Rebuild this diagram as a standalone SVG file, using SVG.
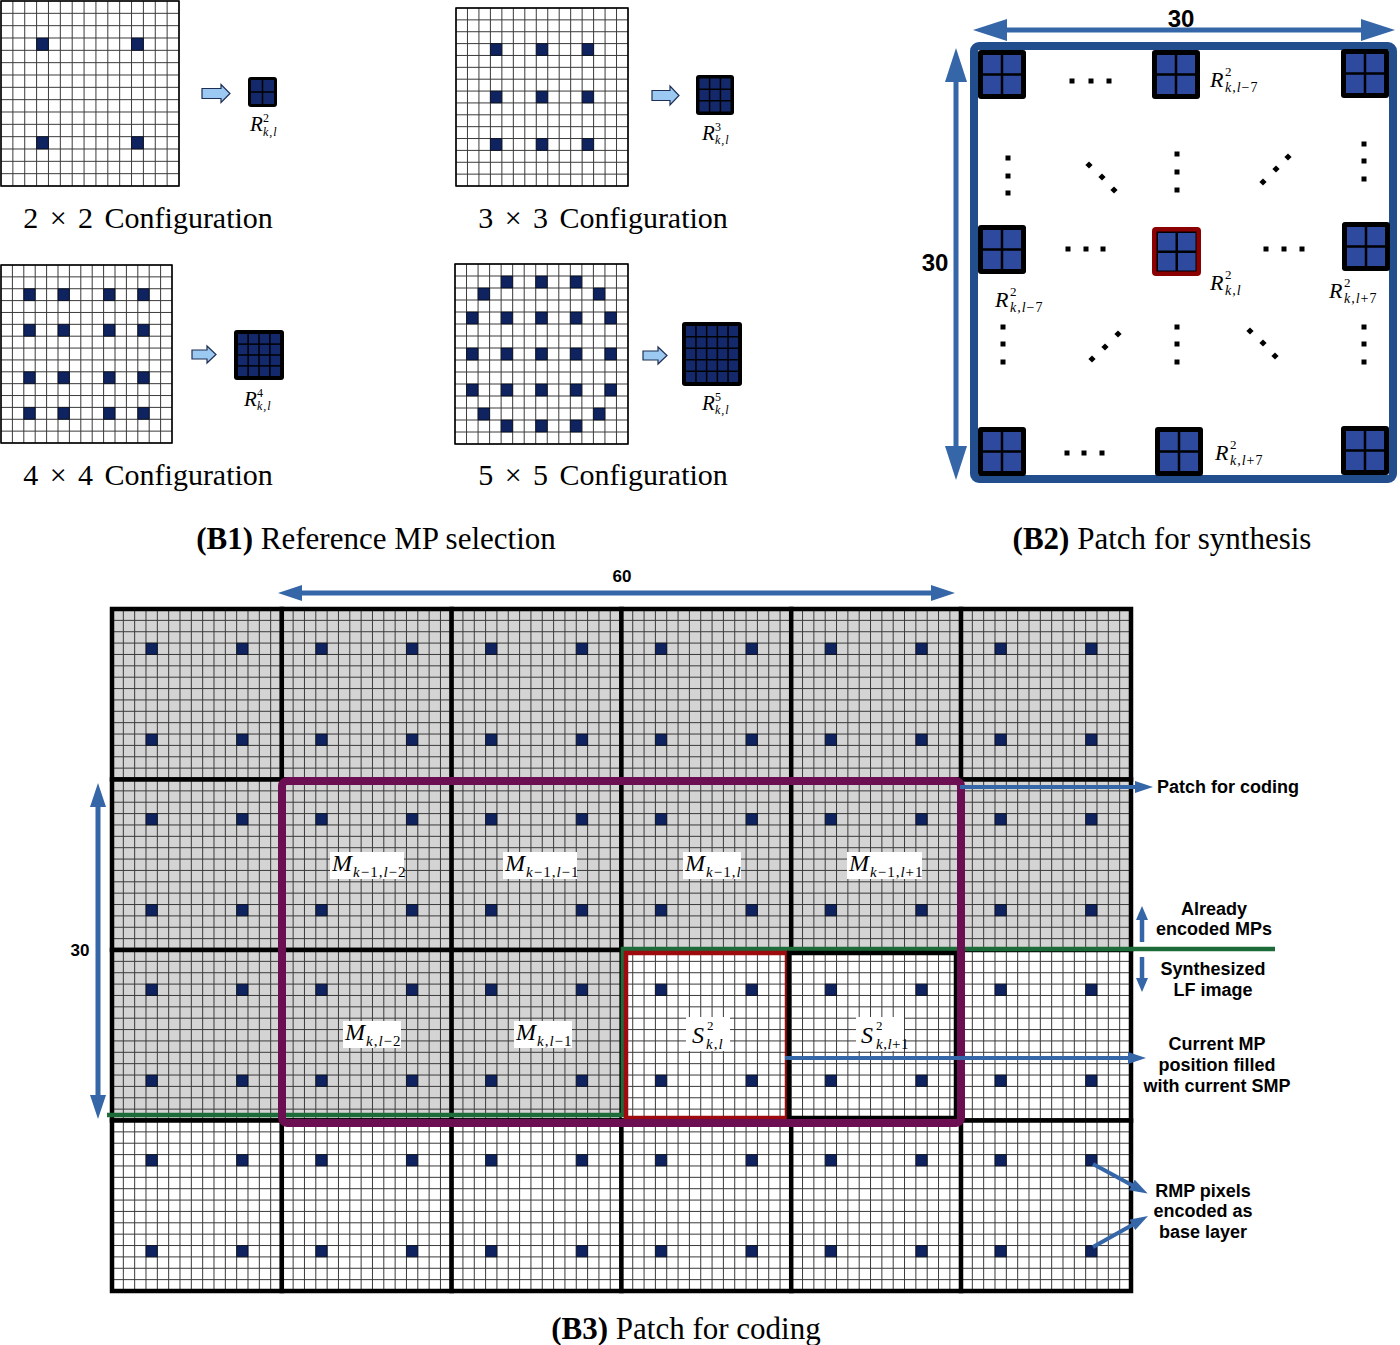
<svg xmlns="http://www.w3.org/2000/svg" xmlns:xlink="http://www.w3.org/1999/xlink" width="1400" height="1345" viewBox="0 0 1400 1345">
<style>
.gl{fill:none;stroke:#3a3a3a;stroke-width:1;vector-effect:non-scaling-stroke}
.gb{fill:none;stroke:#000;stroke-width:1.5;vector-effect:non-scaling-stroke}
.px{fill:#0e2360;stroke:#000;stroke-width:0.6;vector-effect:non-scaling-stroke}
.rc{fill:#14296b}
.bc{fill:#2d4a9f}
.gbg{fill:#d4d4d4}
.wbg{fill:#fff}
.mb{fill:none;stroke:#000;stroke-width:4.5}
.blk{fill:#9cc9f2;stroke:#1d2f55;stroke-width:1.2}
.cfg{font-family:"Liberation Serif","Times New Roman",serif;font-size:30px;word-spacing:4px;text-anchor:middle;fill:#000}
.cap{font-family:"Liberation Serif","Times New Roman",serif;font-size:31px;text-anchor:middle;fill:#000}
.it{font-family:"Liberation Serif","Times New Roman",serif;font-style:italic;fill:#000}
.up{font-family:"Liberation Serif","Times New Roman",serif;font-style:normal;fill:#000}
.lbl{font-family:"Liberation Sans",Arial,sans-serif;font-weight:bold;font-size:18px;text-anchor:middle;fill:#000}
.num{font-family:"Liberation Sans",Arial,sans-serif;font-weight:bold;text-anchor:middle;fill:#000}
.arr{fill:none;stroke:#3566a8}
.dot{fill:#000}
.lb{fill:#fff}
</style>
<defs>
<path id="g15" class="gl" d="M0 0V15M1 0V15M2 0V15M3 0V15M4 0V15M5 0V15M6 0V15M7 0V15M8 0V15M9 0V15M10 0V15M11 0V15M12 0V15M13 0V15M14 0V15M15 0V15M0 0H15M0 1H15M0 2H15M0 3H15M0 4H15M0 5H15M0 6H15M0 7H15M0 8H15M0 9H15M0 10H15M0 11H15M0 12H15M0 13H15M0 14H15M0 15H15"/>
<g id="b4"><rect class="px" x="3" y="3" width="1" height="1"/><rect class="px" x="11" y="3" width="1" height="1"/><rect class="px" x="3" y="11" width="1" height="1"/><rect class="px" x="11" y="11" width="1" height="1"/></g>
<g id="mc"><use href="#g15"/><use href="#b4"/></g>
<g id="rb"><rect x="0" y="0" width="48" height="49" rx="3" fill="#000"/><rect class="bc" x="5" y="5" width="17.75" height="18.25"/><rect class="bc" x="25.25" y="5" width="17.75" height="18.25"/><rect class="bc" x="5" y="25.75" width="17.75" height="18.25"/><rect class="bc" x="25.25" y="25.75" width="17.75" height="18.25"/></g>
<rect id="sq" class="dot" x="-2.5" y="-2.5" width="5" height="5"/>
<path id="dia" class="dot" d="M0 -3.6L3.6 0L0 3.6L-3.6 0Z"/>
<marker id="mA" markerUnits="userSpaceOnUse" markerWidth="18" markerHeight="12" refX="3" refY="6" orient="auto-start-reverse" viewBox="0 0 18 12"><path d="M0 0L18 6L0 12Z" fill="#3566a8"/></marker>
<marker id="mD" markerUnits="userSpaceOnUse" markerWidth="14" markerHeight="12" refX="3" refY="6" orient="auto-start-reverse" viewBox="0 0 14 12"><path d="M0 0L14 6L0 12Z" fill="#3566a8"/></marker>
<marker id="mB" markerUnits="userSpaceOnUse" markerWidth="24" markerHeight="16" refX="3" refY="8" orient="auto-start-reverse" viewBox="0 0 24 16"><path d="M0 0L24 8L0 16Z" fill="#3566a8"/></marker>
<marker id="mC" markerUnits="userSpaceOnUse" markerWidth="34" markerHeight="22" refX="3" refY="11" orient="auto-start-reverse" viewBox="0 0 34 22"><path d="M0 0L34 11L0 22Z" fill="#3566a8"/></marker>
</defs>
<rect x="0" y="0" width="1400" height="1345" fill="#fff"/>

<!-- B1 -->
<g id="cfg2">
<g transform="translate(1 1) scale(11.867 12.333)">
<rect x="0" y="0" width="15" height="15" fill="#fff"/>
<use href="#g15"/><use href="#b4"/>
<rect class="gb" x="0" y="0" width="15" height="15"/>
</g>
<polygon class="blk" points="202,88.5 221,88.5 221,84.5 230,93.5 221,102.5 221,98.5 202,98.5"/>
<rect x="248" y="77" width="29" height="30" rx="3" fill="#000"/>
<rect class="rc" x="251" y="80" width="10.75" height="11.25"/><rect class="rc" x="263.25" y="80" width="10.75" height="11.25"/>
<rect class="rc" x="251" y="92.75" width="10.75" height="11.25"/><rect class="rc" x="263.25" y="92.75" width="10.75" height="11.25"/>
<text class="it" x="250" y="131" font-size="21">R</text><text class="up" x="263" y="122" font-size="12">2</text><text class="it" x="263" y="136" font-size="12" letter-spacing="1">k,l</text>
<text class="cfg" x="148" y="228">2 × 2 Configuration</text>
</g>

<g id="cfg3">
<g transform="translate(456 8) scale(11.467 11.867)">
<rect x="0" y="0" width="15" height="15" fill="#fff"/>
<use href="#g15"/>
<rect class="px" x="3" y="3" width="1" height="1"/><rect class="px" x="7" y="3" width="1" height="1"/><rect class="px" x="11" y="3" width="1" height="1"/>
<rect class="px" x="3" y="7" width="1" height="1"/><rect class="px" x="7" y="7" width="1" height="1"/><rect class="px" x="11" y="7" width="1" height="1"/>
<rect class="px" x="3" y="11" width="1" height="1"/><rect class="px" x="7" y="11" width="1" height="1"/><rect class="px" x="11" y="11" width="1" height="1"/>
<rect class="gb" x="0" y="0" width="15" height="15"/>
</g>
<polygon class="blk" points="652,90.5 670,90.5 670,86 679,95.5 670,105 670,100.5 652,100.5"/>
<rect x="696" y="75" width="38" height="40" rx="3" fill="#000"/>
<rect class="rc" x="699.5" y="78.5" width="9.33" height="10"/><rect class="rc" x="710.33" y="78.5" width="9.33" height="10"/><rect class="rc" x="721.17" y="78.5" width="9.33" height="10"/>
<rect class="rc" x="699.5" y="90" width="9.33" height="10"/><rect class="rc" x="710.33" y="90" width="9.33" height="10"/><rect class="rc" x="721.17" y="90" width="9.33" height="10"/>
<rect class="rc" x="699.5" y="101.5" width="9.33" height="10"/><rect class="rc" x="710.33" y="101.5" width="9.33" height="10"/><rect class="rc" x="721.17" y="101.5" width="9.33" height="10"/>
<text class="it" x="702" y="140" font-size="21">R</text><text class="up" x="715" y="131" font-size="12">3</text><text class="it" x="715" y="144" font-size="12" letter-spacing="1">k,l</text>
<text class="cfg" x="603" y="228">3 × 3 Configuration</text>
</g>

<g id="cfg4">
<g transform="translate(1 265) scale(11.4 11.867)">
<rect x="0" y="0" width="15" height="15" fill="#fff"/>
<use href="#g15"/>
<rect class="px" x="2" y="2" width="1" height="1"/><rect class="px" x="5" y="2" width="1" height="1"/><rect class="px" x="9" y="2" width="1" height="1"/><rect class="px" x="12" y="2" width="1" height="1"/>
<rect class="px" x="2" y="5" width="1" height="1"/><rect class="px" x="5" y="5" width="1" height="1"/><rect class="px" x="9" y="5" width="1" height="1"/><rect class="px" x="12" y="5" width="1" height="1"/>
<rect class="px" x="2" y="9" width="1" height="1"/><rect class="px" x="5" y="9" width="1" height="1"/><rect class="px" x="9" y="9" width="1" height="1"/><rect class="px" x="12" y="9" width="1" height="1"/>
<rect class="px" x="2" y="12" width="1" height="1"/><rect class="px" x="5" y="12" width="1" height="1"/><rect class="px" x="9" y="12" width="1" height="1"/><rect class="px" x="12" y="12" width="1" height="1"/>
<rect class="gb" x="0" y="0" width="15" height="15"/>
</g>
<polygon class="blk" points="192,350 207,350 207,346 216,354.5 207,363 207,359 192,359"/>
<rect x="234" y="330" width="50" height="50" rx="3" fill="#000"/>
<g class="rc">
<rect x="238" y="334" width="9.375" height="9.375"/><rect x="248.875" y="334" width="9.375" height="9.375"/><rect x="259.75" y="334" width="9.375" height="9.375"/><rect x="270.625" y="334" width="9.375" height="9.375"/>
<rect x="238" y="344.875" width="9.375" height="9.375"/><rect x="248.875" y="344.875" width="9.375" height="9.375"/><rect x="259.75" y="344.875" width="9.375" height="9.375"/><rect x="270.625" y="344.875" width="9.375" height="9.375"/>
<rect x="238" y="355.75" width="9.375" height="9.375"/><rect x="248.875" y="355.75" width="9.375" height="9.375"/><rect x="259.75" y="355.75" width="9.375" height="9.375"/><rect x="270.625" y="355.75" width="9.375" height="9.375"/>
<rect x="238" y="366.625" width="9.375" height="9.375"/><rect x="248.875" y="366.625" width="9.375" height="9.375"/><rect x="259.75" y="366.625" width="9.375" height="9.375"/><rect x="270.625" y="366.625" width="9.375" height="9.375"/>
</g>
<text class="it" x="244" y="406" font-size="21">R</text><text class="up" x="257" y="397" font-size="12">4</text><text class="it" x="257" y="410" font-size="12" letter-spacing="1">k,l</text>
<text class="cfg" x="148" y="485">4 × 4 Configuration</text>
</g>

<g id="cfg5">
<g transform="translate(455 264) scale(11.533 12)">
<rect x="0" y="0" width="15" height="15" fill="#fff"/>
<use href="#g15"/>
<rect class="px" x="4" y="1" width="1" height="1"/><rect class="px" x="7" y="1" width="1" height="1"/><rect class="px" x="10" y="1" width="1" height="1"/>
<rect class="px" x="2" y="2" width="1" height="1"/><rect class="px" x="12" y="2" width="1" height="1"/>
<rect class="px" x="1" y="4" width="1" height="1"/><rect class="px" x="4" y="4" width="1" height="1"/><rect class="px" x="7" y="4" width="1" height="1"/><rect class="px" x="10" y="4" width="1" height="1"/><rect class="px" x="13" y="4" width="1" height="1"/>
<rect class="px" x="1" y="7" width="1" height="1"/><rect class="px" x="4" y="7" width="1" height="1"/><rect class="px" x="7" y="7" width="1" height="1"/><rect class="px" x="10" y="7" width="1" height="1"/><rect class="px" x="13" y="7" width="1" height="1"/>
<rect class="px" x="1" y="10" width="1" height="1"/><rect class="px" x="4" y="10" width="1" height="1"/><rect class="px" x="7" y="10" width="1" height="1"/><rect class="px" x="10" y="10" width="1" height="1"/><rect class="px" x="13" y="10" width="1" height="1"/>
<rect class="px" x="2" y="12" width="1" height="1"/><rect class="px" x="12" y="12" width="1" height="1"/>
<rect class="px" x="4" y="13" width="1" height="1"/><rect class="px" x="7" y="13" width="1" height="1"/><rect class="px" x="10" y="13" width="1" height="1"/>
<rect class="gb" x="0" y="0" width="15" height="15"/>
</g>
<polygon class="blk" points="643,351 658,351 658,347 667,355.5 658,364 658,360 643,360"/>
<rect x="682" y="322" width="60" height="64" rx="3" fill="#000"/>
<g class="rc">
<rect x="686" y="326" width="9.2" height="10"/><rect x="696.7" y="326" width="9.2" height="10"/><rect x="707.4" y="326" width="9.2" height="10"/><rect x="718.1" y="326" width="9.2" height="10"/><rect x="728.8" y="326" width="9.2" height="10"/>
<rect x="686" y="337.5" width="9.2" height="10"/><rect x="696.7" y="337.5" width="9.2" height="10"/><rect x="707.4" y="337.5" width="9.2" height="10"/><rect x="718.1" y="337.5" width="9.2" height="10"/><rect x="728.8" y="337.5" width="9.2" height="10"/>
<rect x="686" y="349" width="9.2" height="10"/><rect x="696.7" y="349" width="9.2" height="10"/><rect x="707.4" y="349" width="9.2" height="10"/><rect x="718.1" y="349" width="9.2" height="10"/><rect x="728.8" y="349" width="9.2" height="10"/>
<rect x="686" y="360.5" width="9.2" height="10"/><rect x="696.7" y="360.5" width="9.2" height="10"/><rect x="707.4" y="360.5" width="9.2" height="10"/><rect x="718.1" y="360.5" width="9.2" height="10"/><rect x="728.8" y="360.5" width="9.2" height="10"/>
<rect x="686" y="372" width="9.2" height="10"/><rect x="696.7" y="372" width="9.2" height="10"/><rect x="707.4" y="372" width="9.2" height="10"/><rect x="718.1" y="372" width="9.2" height="10"/><rect x="728.8" y="372" width="9.2" height="10"/>
</g>
<text class="it" x="702" y="410" font-size="21">R</text><text class="up" x="715" y="401" font-size="12">5</text><text class="it" x="715" y="414" font-size="12" letter-spacing="1">k,l</text>
<text class="cfg" x="603" y="485">5 × 5 Configuration</text>
</g>

<text class="cap" x="376" y="549"><tspan font-weight="bold">(B1)</tspan> Reference MP selection</text>

<!-- B2 -->
<g id="b2">
<rect x="974" y="46" width="419" height="433" rx="5" fill="none" stroke="#234e8e" stroke-width="8"/>
<use href="#rb" x="978" y="50"/>
<use href="#rb" x="1152" y="50"/>
<use href="#rb" x="1341" y="49"/>
<use href="#rb" x="978" y="225"/>
<use href="#rb" x="1342" y="222"/>
<use href="#rb" x="978" y="427"/>
<use href="#rb" x="1155" y="427"/>
<use href="#rb" x="1341" y="426"/>
<g id="b2-center">
<rect x="1152" y="227" width="49" height="49" rx="4" fill="#8b0000"/>
<rect x="1156.5" y="231.5" width="40" height="40" fill="#000"/>
<rect class="bc" x="1158" y="233" width="17.5" height="17.5"/><rect class="bc" x="1178" y="233" width="17.5" height="17.5"/>
<rect class="bc" x="1158" y="253" width="17.5" height="17.5"/><rect class="bc" x="1178" y="253" width="17.5" height="17.5"/>
</g>
<g id="b2-dots">
<use href="#sq" x="1072" y="81"/><use href="#sq" x="1091" y="81"/><use href="#sq" x="1109" y="81"/>
<use href="#sq" x="1068" y="249"/><use href="#sq" x="1086" y="249"/><use href="#sq" x="1103" y="249"/>
<use href="#sq" x="1266" y="249"/><use href="#sq" x="1284" y="249"/><use href="#sq" x="1302" y="249"/>
<use href="#sq" x="1067" y="453"/><use href="#sq" x="1084" y="453"/><use href="#sq" x="1102" y="453"/>
<use href="#sq" x="1008" y="158"/><use href="#sq" x="1008" y="176"/><use href="#sq" x="1008" y="193"/>
<use href="#sq" x="1177" y="154"/><use href="#sq" x="1177" y="172"/><use href="#sq" x="1177" y="190"/>
<use href="#sq" x="1364" y="144"/><use href="#sq" x="1364" y="161"/><use href="#sq" x="1364" y="179"/>
<use href="#sq" x="1003" y="327"/><use href="#sq" x="1003" y="344"/><use href="#sq" x="1003" y="362"/>
<use href="#sq" x="1177" y="327"/><use href="#sq" x="1177" y="344"/><use href="#sq" x="1177" y="362"/>
<use href="#sq" x="1364" y="327"/><use href="#sq" x="1364" y="344"/><use href="#sq" x="1364" y="362"/>
<use href="#dia" x="1089" y="165"/><use href="#dia" x="1102" y="177"/><use href="#dia" x="1114" y="190"/>
<use href="#dia" x="1263" y="182"/><use href="#dia" x="1276" y="169"/><use href="#dia" x="1288" y="157"/>
<use href="#dia" x="1092" y="359"/><use href="#dia" x="1105" y="347"/><use href="#dia" x="1118" y="334"/>
<use href="#dia" x="1250" y="331"/><use href="#dia" x="1263" y="343"/><use href="#dia" x="1275" y="356"/>
</g>
<g id="b2-labels">
<text class="it" x="1210" y="87" font-size="22">R</text><text class="up" x="1225" y="76" font-size="13">2</text><text class="it" x="1225" y="92" font-size="14" letter-spacing="1">k,l<tspan class="up">−7</tspan></text>
<text class="it" x="995" y="307" font-size="22">R</text><text class="up" x="1010" y="296" font-size="13">2</text><text class="it" x="1010" y="312" font-size="14" letter-spacing="1">k,l<tspan class="up">−7</tspan></text>
<text class="it" x="1210" y="290" font-size="22">R</text><text class="up" x="1225" y="279" font-size="13">2</text><text class="it" x="1225" y="295" font-size="14" letter-spacing="1">k,l</text>
<text class="it" x="1329" y="298" font-size="22">R</text><text class="up" x="1344" y="287" font-size="13">2</text><text class="it" x="1344" y="303" font-size="14" letter-spacing="1">k,l<tspan class="up">+7</tspan></text>
<text class="it" x="1215" y="460" font-size="22">R</text><text class="up" x="1230" y="449" font-size="13">2</text><text class="it" x="1230" y="465" font-size="14" letter-spacing="1">k,l<tspan class="up">+7</tspan></text>
</g>
<line class="arr" x1="1004" y1="30" x2="1364" y2="30" stroke-width="5" marker-start="url(#mC)" marker-end="url(#mC)"/>
<line class="arr" x1="956" y1="79" x2="956" y2="449" stroke-width="5" marker-start="url(#mC)" marker-end="url(#mC)"/>
<text class="num" x="1181" y="27" font-size="24">30</text>
<text class="num" x="935" y="271" font-size="24">30</text>
</g>
<text class="cap" x="1162" y="549"><tspan font-weight="bold">(B2)</tspan> Patch for synthesis</text>

<!-- B3 cells -->
<g id="b3-cells">
<g id="mp-0-0"><rect class="gbg" x="112" y="609" width="170" height="170.5"/><use href="#mc" transform="translate(112 609) scale(11.333 11.367)"/><rect class="mb" x="112" y="609" width="170" height="170.5"/></g>
<g id="mp-0-1"><rect class="gbg" x="281.8" y="609" width="170" height="170.5"/><use href="#mc" transform="translate(281.8 609) scale(11.333 11.367)"/><rect class="mb" x="281.8" y="609" width="170" height="170.5"/></g>
<g id="mp-0-2"><rect class="gbg" x="451.6" y="609" width="170" height="170.5"/><use href="#mc" transform="translate(451.6 609) scale(11.333 11.367)"/><rect class="mb" x="451.6" y="609" width="170" height="170.5"/></g>
<g id="mp-0-3"><rect class="gbg" x="621.4" y="609" width="170" height="170.5"/><use href="#mc" transform="translate(621.4 609) scale(11.333 11.367)"/><rect class="mb" x="621.4" y="609" width="170" height="170.5"/></g>
<g id="mp-0-4"><rect class="gbg" x="791.2" y="609" width="170" height="170.5"/><use href="#mc" transform="translate(791.2 609) scale(11.333 11.367)"/><rect class="mb" x="791.2" y="609" width="170" height="170.5"/></g>
<g id="mp-0-5"><rect class="gbg" x="961" y="609" width="170" height="170.5"/><use href="#mc" transform="translate(961 609) scale(11.333 11.367)"/><rect class="mb" x="961" y="609" width="170" height="170.5"/></g>

<g id="mp-1-0"><rect class="gbg" x="112" y="779.5" width="170" height="170.5"/><use href="#mc" transform="translate(112 779.5) scale(11.333 11.367)"/><rect class="mb" x="112" y="779.5" width="170" height="170.5"/></g>
<g id="mp-1-1"><rect class="gbg" x="281.8" y="779.5" width="170" height="170.5"/><use href="#mc" transform="translate(281.8 779.5) scale(11.333 11.367)"/><rect class="mb" x="281.8" y="779.5" width="170" height="170.5"/></g>
<g id="mp-1-2"><rect class="gbg" x="451.6" y="779.5" width="170" height="170.5"/><use href="#mc" transform="translate(451.6 779.5) scale(11.333 11.367)"/><rect class="mb" x="451.6" y="779.5" width="170" height="170.5"/></g>
<g id="mp-1-3"><rect class="gbg" x="621.4" y="779.5" width="170" height="170.5"/><use href="#mc" transform="translate(621.4 779.5) scale(11.333 11.367)"/><rect class="mb" x="621.4" y="779.5" width="170" height="170.5"/></g>
<g id="mp-1-4"><rect class="gbg" x="791.2" y="779.5" width="170" height="170.5"/><use href="#mc" transform="translate(791.2 779.5) scale(11.333 11.367)"/><rect class="mb" x="791.2" y="779.5" width="170" height="170.5"/></g>
<g id="mp-1-5"><rect class="gbg" x="961" y="779.5" width="170" height="170.5"/><use href="#mc" transform="translate(961 779.5) scale(11.333 11.367)"/><rect class="mb" x="961" y="779.5" width="170" height="170.5"/></g>

<g id="mp-2-0"><rect class="gbg" x="112" y="950" width="170" height="170.5"/><use href="#mc" transform="translate(112 950) scale(11.333 11.367)"/><rect class="mb" x="112" y="950" width="170" height="170.5"/></g>
<g id="mp-2-1"><rect class="gbg" x="281.8" y="950" width="170" height="170.5"/><use href="#mc" transform="translate(281.8 950) scale(11.333 11.367)"/><rect class="mb" x="281.8" y="950" width="170" height="170.5"/></g>
<g id="mp-2-2"><rect class="gbg" x="451.6" y="950" width="170" height="170.5"/><use href="#mc" transform="translate(451.6 950) scale(11.333 11.367)"/><rect class="mb" x="451.6" y="950" width="170" height="170.5"/></g>
<g id="mp-2-3"><rect class="wbg" x="621.4" y="950" width="170" height="170.5"/><use href="#mc" transform="translate(621.4 950) scale(11.333 11.367)"/></g>
<g id="mp-2-4"><rect class="wbg" x="791.2" y="950" width="170" height="170.5"/><use href="#mc" transform="translate(791.2 950) scale(11.333 11.367)"/></g>
<g id="mp-2-5"><rect class="wbg" x="961" y="950" width="170" height="170.5"/><use href="#mc" transform="translate(961 950) scale(11.333 11.367)"/><rect class="mb" x="961" y="950" width="170" height="170.5"/></g>

<g id="mp-3-0"><rect class="wbg" x="112" y="1120.5" width="170" height="170.5"/><use href="#mc" transform="translate(112 1120.5) scale(11.333 11.367)"/><rect class="mb" x="112" y="1120.5" width="170" height="170.5"/></g>
<g id="mp-3-1"><rect class="wbg" x="281.8" y="1120.5" width="170" height="170.5"/><use href="#mc" transform="translate(281.8 1120.5) scale(11.333 11.367)"/><rect class="mb" x="281.8" y="1120.5" width="170" height="170.5"/></g>
<g id="mp-3-2"><rect class="wbg" x="451.6" y="1120.5" width="170" height="170.5"/><use href="#mc" transform="translate(451.6 1120.5) scale(11.333 11.367)"/><rect class="mb" x="451.6" y="1120.5" width="170" height="170.5"/></g>
<g id="mp-3-3"><rect class="wbg" x="621.4" y="1120.5" width="170" height="170.5"/><use href="#mc" transform="translate(621.4 1120.5) scale(11.333 11.367)"/><rect class="mb" x="621.4" y="1120.5" width="170" height="170.5"/></g>
<g id="mp-3-4"><rect class="wbg" x="791.2" y="1120.5" width="170" height="170.5"/><use href="#mc" transform="translate(791.2 1120.5) scale(11.333 11.367)"/><rect class="mb" x="791.2" y="1120.5" width="170" height="170.5"/></g>
<g id="mp-3-5"><rect class="wbg" x="961" y="1120.5" width="170" height="170.5"/><use href="#mc" transform="translate(961 1120.5) scale(11.333 11.367)"/><rect class="mb" x="961" y="1120.5" width="170" height="170.5"/></g>
</g>

<g id="b3-frames">
<polyline points="107,1115 623,1115 623,949 1275,949" fill="none" stroke="#1e6b3a" stroke-width="4.5"/>
<rect id="current-smp" x="626" y="953" width="161" height="165" fill="none" stroke="#9e0b0f" stroke-width="4.5"/>
<rect id="next-smp" x="789" y="953" width="167" height="165" fill="none" stroke="#000" stroke-width="4.5"/>
<rect id="patch-coding" x="282" y="781" width="679" height="342" rx="5" fill="none" stroke="#6b0e52" stroke-width="8"/>
</g>

<g id="b3-labels">
<rect class="lb" x="330" y="852" width="74" height="27"/>
<text class="it" x="332" y="871" font-size="24">M</text><text class="it" x="353" y="877" font-size="15" letter-spacing="1">k<tspan class="up">−1,</tspan>l<tspan class="up">−2</tspan></text>
<rect class="lb" x="503" y="852" width="74" height="27"/>
<text class="it" x="505" y="871" font-size="24">M</text><text class="it" x="526" y="877" font-size="15" letter-spacing="1">k<tspan class="up">−1,</tspan>l<tspan class="up">−1</tspan></text>
<rect class="lb" x="683" y="852" width="58" height="27"/>
<text class="it" x="685" y="871" font-size="24">M</text><text class="it" x="706" y="877" font-size="15" letter-spacing="1">k<tspan class="up">−1,</tspan>l</text>
<rect class="lb" x="847" y="852" width="75" height="27"/>
<text class="it" x="849" y="871" font-size="24">M</text><text class="it" x="870" y="877" font-size="15" letter-spacing="1">k<tspan class="up">−1,</tspan>l<tspan class="up">+1</tspan></text>
<rect class="lb" x="343" y="1021" width="58" height="27"/>
<text class="it" x="345" y="1040" font-size="24">M</text><text class="it" x="366" y="1046" font-size="15" letter-spacing="1">k<tspan class="up">,</tspan>l<tspan class="up">−2</tspan></text>
<rect class="lb" x="514" y="1021" width="58" height="27"/>
<text class="it" x="516" y="1040" font-size="24">M</text><text class="it" x="537" y="1046" font-size="15" letter-spacing="1">k<tspan class="up">,</tspan>l<tspan class="up">−1</tspan></text>
<rect class="lb" x="686" y="1017" width="44" height="34"/>
<text class="it" x="692" y="1043" font-size="24">S</text><text class="up" x="707" y="1030" font-size="13">2</text><text class="it" x="706" y="1049" font-size="15" letter-spacing="1">k<tspan class="up">,</tspan>l</text>
<rect class="lb" x="856" y="1017" width="48" height="34"/>
<text class="it" x="861" y="1043" font-size="24">S</text><text class="up" x="876" y="1030" font-size="13">2</text><text class="it" x="876" y="1049" font-size="15" letter-spacing="0.5">k<tspan class="up">,</tspan>l<tspan class="up">+1</tspan></text>
</g>

<g id="connectors">
<line class="arr" x1="299" y1="593" x2="934" y2="593" stroke-width="5" marker-start="url(#mB)" marker-end="url(#mB)"/>
<line class="arr" x1="98" y1="804" x2="98" y2="1098" stroke-width="5" marker-start="url(#mB)" marker-end="url(#mB)"/>
<line class="arr" x1="960" y1="787" x2="1138" y2="787" stroke-width="4" marker-end="url(#mA)"/>
<line class="arr" x1="1142" y1="942" x2="1142" y2="917" stroke-width="4.5" marker-end="url(#mD)"/>
<line class="arr" x1="1142" y1="957" x2="1142" y2="981" stroke-width="4.5" marker-end="url(#mD)"/>
<line class="arr" x1="785" y1="1058" x2="1131" y2="1058" stroke-width="4" marker-end="url(#mA)"/>
<line class="arr" x1="1093" y1="1164" x2="1134.5" y2="1186.4" stroke-width="4" marker-end="url(#mA)"/>
<line class="arr" x1="1093" y1="1247" x2="1134.9" y2="1223.4" stroke-width="4" marker-end="url(#mA)"/>
</g>

<g id="b3-annotations">
<text class="num" x="622" y="582" font-size="17">60</text>
<text class="num" x="80" y="956" font-size="17">30</text>
<text class="lbl" x="1157" y="793" style="text-anchor:start">Patch for coding</text>
<text class="lbl" x="1214" y="915">Already</text>
<text class="lbl" x="1214" y="935">encoded MPs</text>
<text class="lbl" x="1213" y="975">Synthesized</text>
<text class="lbl" x="1213" y="996">LF image</text>
<text class="lbl" x="1217" y="1050">Current MP</text>
<text class="lbl" x="1217" y="1071">position filled</text>
<text class="lbl" x="1217" y="1092">with current SMP</text>
<text class="lbl" x="1203" y="1197">RMP pixels</text>
<text class="lbl" x="1203" y="1217">encoded as</text>
<text class="lbl" x="1203" y="1238">base layer</text>
</g>
<text class="cap" x="686" y="1339"><tspan font-weight="bold">(B3)</tspan> Patch for coding</text>
</svg>
